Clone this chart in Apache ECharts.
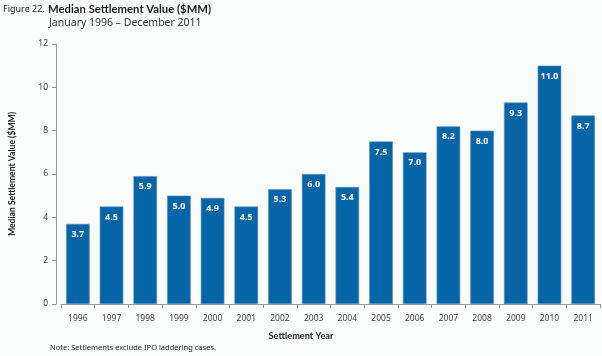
<!DOCTYPE html>
<html>
<head>
<meta charset="utf-8">
<script src="https://cdn.jsdelivr.net/npm/echarts@6/dist/echarts.min.js"></script>
<style>html,body{margin:0;padding:0;background:#fbfcfc}#c{width:602px;height:356px}</style>
</head>
<body>
<div id="c"></div>
<script>
var years = ['1996','1997','1998','1999','2000','2001','2002','2003','2004','2005','2006','2007','2008','2009','2010','2011'];
var medianValues = [3.7, 4.5, 5.9, 5.0, 4.9, 4.5, 5.3, 6.0, 5.4, 7.5, 7.0, 8.2, 8.0, 9.3, 11.0, 8.7];
var yTicks = [0, 2, 4, 6, 8, 10, 12];
var titleText = 'Figure 22.';
var titleBold = 'Median Settlement Value ($MM)';
var subtitleText = 'January 1996 \u2013 December 2011';
var yAxisName = 'Median Settlement Value ($MM)';
var xAxisName = 'Settlement Year';
var noteText = 'Note: Settlements exclude IPO laddering cases.';

var font = 'Noto Sans';
var boldFont = 'Lato';
var chart = echarts.init(document.getElementById('c'), null, {renderer: 'canvas'});
chart.setOption({
  backgroundColor: '#fbfcfc',
  animation: false,
  title: [
    {
      text: titleText, left: 3, top: 5, padding: 0,
      textStyle: {fontFamily: font, fontSize: 9, fontWeight: 'normal', color: '#222'}
    },
    {
      text: titleBold, left: 48, top: 4, padding: 0,
      textStyle: {fontFamily: boldFont, fontSize: 11.3, fontWeight: 'bold', color: '#222'}
    },
    {
      text: subtitleText, left: 49, top: 18, padding: 0,
      textStyle: {fontFamily: font, fontSize: 10.5, fontWeight: 'normal', color: '#333'}
    },
    {
      text: xAxisName, left: 'center', top: 332, padding: 0,
      textStyle: {fontFamily: boldFont, fontSize: 9.2, fontWeight: 'bold', color: '#222'}
    },
    {
      text: noteText, left: 50, top: 344, padding: 0,
      textStyle: {fontFamily: font, fontSize: 7.5, fontWeight: 'normal', color: '#222'}
    }
  ],
  grid: {left: 51, right: 2, top: 44, bottom: 52, containLabel: false},
  xAxis: {
    type: 'category',
    data: years,
    axisLine: {lineStyle: {color: '#999', width: 1}},
    axisTick: {show: true, alignWithLabel: false, length: 4, lineStyle: {color: '#999'}},
    axisLabel: {fontFamily: font, fontSize: 8.5, color: '#444', margin: 10}
  },
  yAxis: {
    type: 'value',
    min: yTicks[0], max: yTicks[yTicks.length - 1], interval: 2,
    offset: 5,
    name: yAxisName,
    nameLocation: 'middle',
    nameGap: 39,
    nameRotate: 90,
    nameTextStyle: {fontFamily: boldFont, fontSize: 8.6, fontWeight: 'bold', color: '#222'},
    axisLine: {show: true, lineStyle: {color: '#999', width: 1}},
    axisTick: {show: true, length: 4, lineStyle: {color: '#999'}},
    splitLine: {show: false},
    axisLabel: {fontFamily: font, fontSize: 8.5, color: '#444', margin: 8}
  },
  series: [{
    type: 'bar',
    data: medianValues,
    barCategoryGap: '30%',
    itemStyle: {color: '#0565a6', borderColor: '#5a8fbf', borderWidth: 0.6},
    label: {
      show: true, position: 'insideTop', distance: 6,
      formatter: function (p) { return p.value.toFixed(1); },
      fontFamily: font, fontSize: 9, fontWeight: 'bold', color: '#ffffff'
    }
  }]
});
</script>
</body>
</html>
